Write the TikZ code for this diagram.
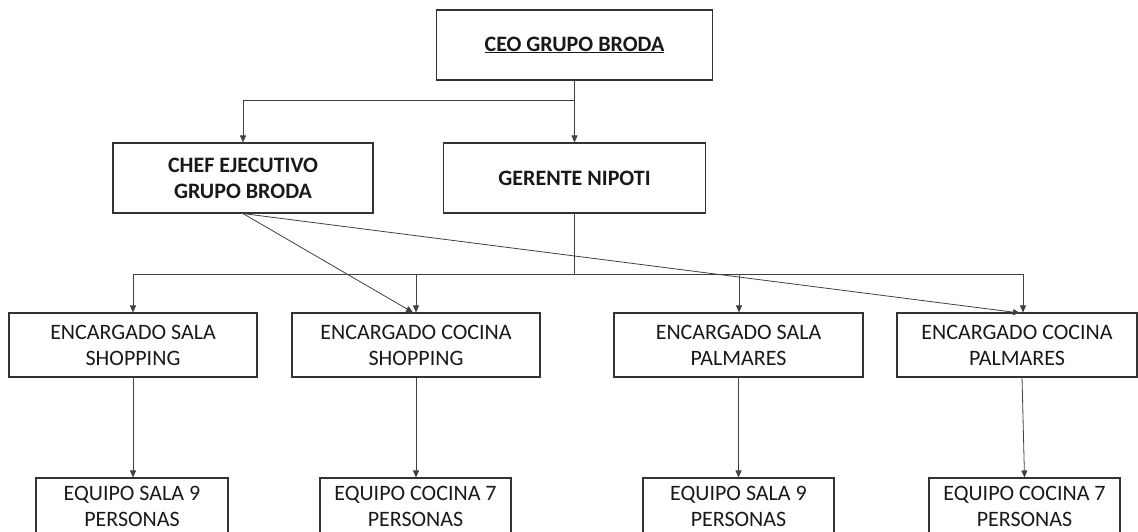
\documentclass[tikz,border=0pt]{standalone}
\usepackage{fontspec}
\setmainfont{Carlito}
\usetikzlibrary{arrows.meta,calc}
\begin{document}
\begin{tikzpicture}[x=1pt,y=-1pt,
  box/.style={draw=black!80,line width=1.1pt,align=center,inner sep=0pt,
    font=\fontsize{22}{26}\selectfont,text=black!90},
  arr/.style={draw=black!75,line width=0.8pt,-{Triangle[length=7pt,width=6pt]}},
  ln/.style={draw=black!75,line width=0.8pt}]
\useasboundingbox (0,0) rectangle (1138,532);
\clip (0,0) rectangle (1138,532);
% top
\node[box,minimum width=276pt,minimum height=70pt] (ceo) at (574.5,45) {\textbf{\underline{CEO GRUPO BRODA}}};
\node[box,minimum width=260pt,minimum height=70pt] (chef) at (243,178) {\textbf{CHEF EJECUTIVO}\\\textbf{GRUPO BRODA}};
\node[box,minimum width=262pt,minimum height=70pt] (ger) at (574.5,178) {\textbf{GERENTE NIPOTI}};
% encargados
\node[box,minimum width=248pt,minimum height=64pt] (e1) at (133,345) {ENCARGADO SALA\\SHOPPING};
\node[box,minimum width=248pt,minimum height=64pt] (e2) at (416,345) {ENCARGADO COCINA\\SHOPPING};
\node[box,minimum width=249pt,minimum height=64pt] (e3) at (738.5,345) {ENCARGADO SALA\\PALMARES};
\node[box,minimum width=240pt,minimum height=64pt] (e4) at (1017,345) {ENCARGADO COCINA\\PALMARES};
% equipos
\node[box,minimum width=192pt,minimum height=57pt] (q1) at (132,506.5) {EQUIPO SALA 9\\PERSONAS};
\node[box,minimum width=191pt,minimum height=57pt] (q2) at (415.5,506.5) {EQUIPO COCINA 7\\PERSONAS};
\node[box,minimum width=191pt,minimum height=57pt] (q3) at (738.5,506.5) {EQUIPO SALA 9\\PERSONAS};
\node[box,minimum width=191pt,minimum height=57pt] (q4) at (1024.5,506.5) {EQUIPO COCINA 7\\PERSONAS};
% junctions
\coordinate (j1) at (574.5,100);
\coordinate (bus) at (574.5,274);
\coordinate (h1) at (133,274);
\coordinate (h2) at (416,274);
\coordinate (h3) at (739,274);
\coordinate (h4) at (1023,274);
\coordinate (d4) at (1020,313);
\coordinate (s4) at (1022,377);
% connectors
\draw[arr] (ceo.south) -- (ger.north);
\draw[arr] (j1) -| (chef.north);
\draw[ln] (ger.south) -- (bus);
\draw[ln] (h1) -- (h4);
\draw[arr] (h1) -- (h1 |- e1.north);
\draw[arr] (h2) -- (h2 |- e2.north);
\draw[arr] (h3) -- (h3 |- e3.north);
\draw[arr] (h4) -- (h4 |- e4.north);
\draw[arr] (chef.south) -- ([xshift=-3pt]e2.north);
\draw[arr] (chef.south) -- (d4);
\draw[arr] (e1.south) -- (q1.north -| e1.south);
\draw[arr] (e2.south) -- (q2.north -| e2.south);
\draw[arr] (e3.south) -- (q3.north -| e3.south);
\draw[arr] (s4) -- (q4.north);
\end{tikzpicture}
\end{document}
